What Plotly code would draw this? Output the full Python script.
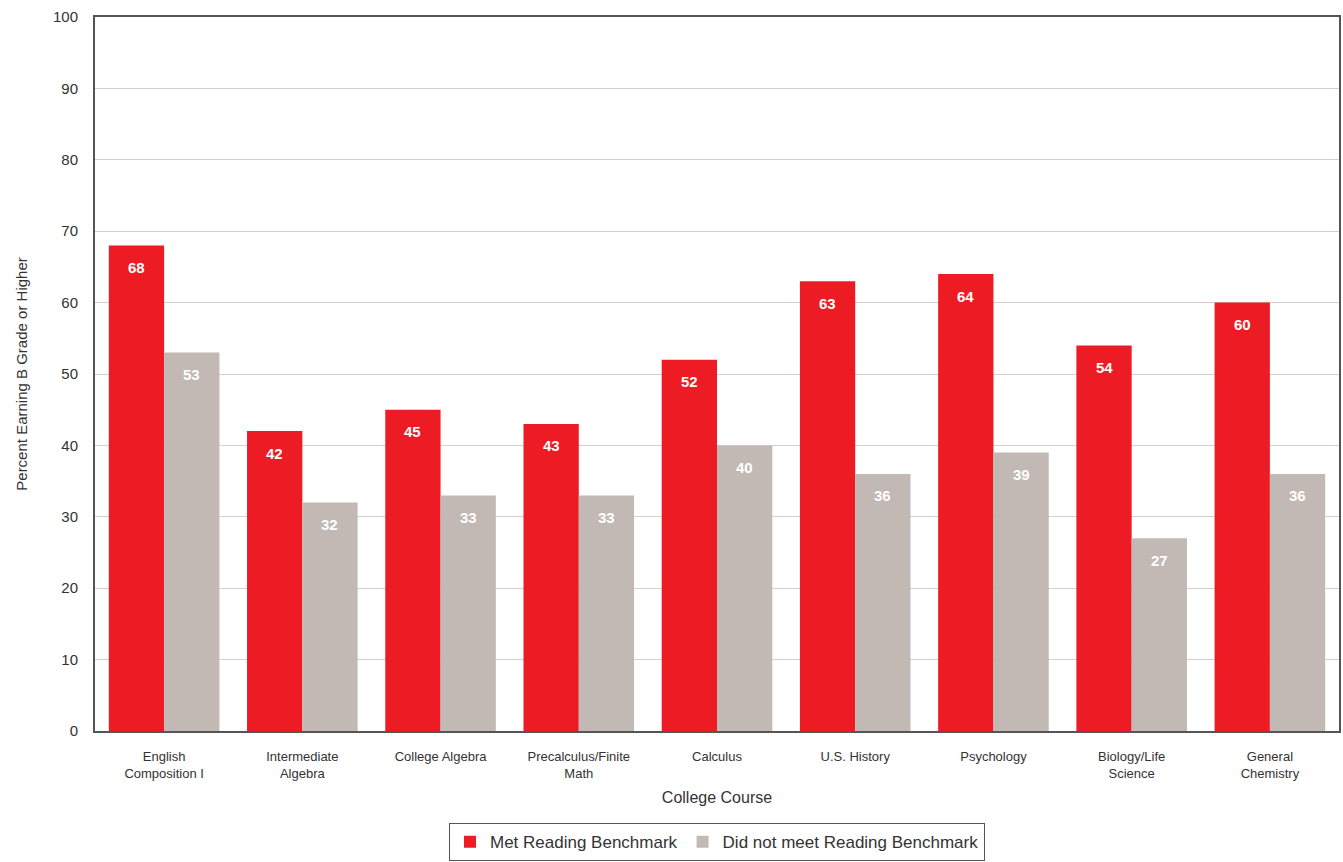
import plotly.graph_objects as go

courses = ["English<br>Composition I", "Intermediate<br>Algebra", "College Algebra",
           "Precalculus/Finite<br>Math", "Calculus", "U.S. History", "Psychology",
           "Biology/Life<br>Science", "General<br>Chemistry"]
met = [68, 42, 45, 43, 52, 63, 64, 54, 60]
not_met = [53, 32, 33, 33, 40, 36, 39, 27, 36]

RED = "#ed1c24"
GRAY = "#c2b9b4"
FONT = "Liberation Sans, Arial, sans-serif"

fig = go.Figure()
series = [("Met Reading Benchmark", met, RED, -0.2),
          ("Did not meet Reading Benchmark", not_met, GRAY, 0.2)]
idx = list(range(len(courses)))
for name, vals, col, off in series:
    fig.add_trace(go.Bar(
        x=idx, y=vals, name=name, marker=dict(color=col, line=dict(width=0)),
    ))
    # value labels sit just inside the top of each bar
    for i, v in zip(idx, vals):
        fig.add_annotation(
            x=i + off, y=v, text=f"<b>{v}</b>", showarrow=False,
            yanchor="middle", yshift=-22,
            font=dict(color="white", size=15, family=FONT),
        )

fig.update_layout(
    barmode="group", bargap=0.2, bargroupgap=0,
    width=1343, height=862,
    margin=dict(l=95, r=4, t=17, b=131, autoexpand=False),
    paper_bgcolor="white", plot_bgcolor="white",
    font=dict(family=FONT, color="#333333"),
    showlegend=True,
    legend=dict(orientation="h", x=0.5, xanchor="center", yref="container",
                y=0.001, yanchor="bottom",
                font=dict(size=17, color="#333333"), bordercolor="#555555", borderwidth=1,
                traceorder="normal", itemwidth=30),
)
fig.update_xaxes(
    tickmode="array", tickvals=idx, ticktext=courses, range=[-0.5, len(courses) - 0.5],
    title=dict(text="College Course", font=dict(size=16, color="#333333"), standoff=12),
    tickfont=dict(size=13, color="#333333"), showline=True, linecolor="#555555",
    linewidth=2, mirror=True, ticks="outside", ticklen=12, tickcolor="rgba(0,0,0,0)",
    showgrid=False, automargin=False,
)
fig.update_yaxes(
    title=dict(text="Percent Earning B Grade or Higher", font=dict(size=15, color="#333333"), standoff=22),
    range=[0, 100], dtick=10, tickfont=dict(size=15, color="#333333"),
    showline=True, linecolor="#555555", linewidth=2, mirror=True,
    gridcolor="#d8cfcb", gridwidth=1, ticks="outside", ticklen=12,
    tickcolor="rgba(0,0,0,0)", zeroline=False, automargin=False,
)

fig.write_html("out.html")
